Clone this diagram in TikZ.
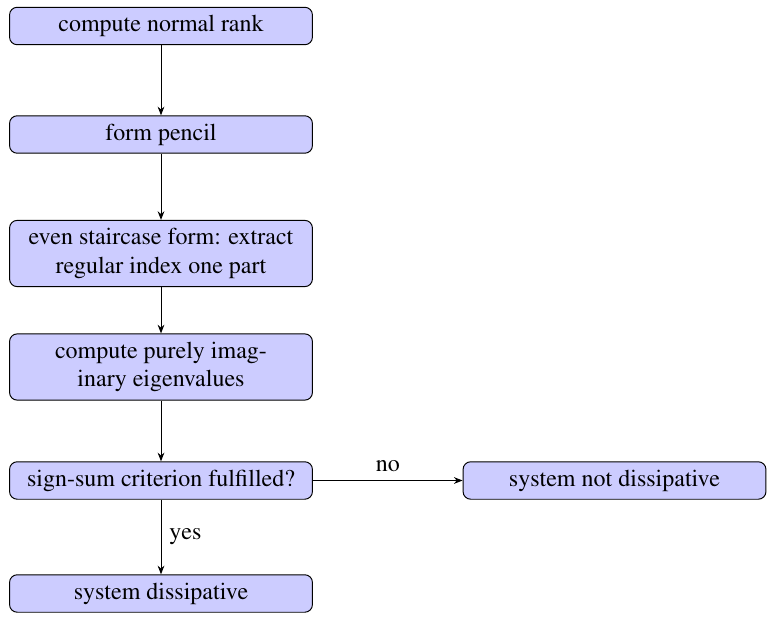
\documentclass[tikz,border=0pt]{standalone}
\usepackage[T1]{fontenc}
\usepackage{mathptmx}
\usetikzlibrary{arrows.meta}
\tikzset{
  stage/.style={draw, fill=blue!20, rounded corners=3.2pt, align=center,
    minimum width=126.2pt, minimum height=15.4pt, inner sep=3.33pt},
  flow/.style={draw, -{Stealth[length=3.6pt,width=2.8pt]}}
}
\begin{document}
\begin{tikzpicture}[x=0.41667pt, y=-0.41667pt]
  \useasboundingbox (0,0) rectangle (769,618);
  \node[stage] (rank)  at (161,26)    {compute normal rank};
  \node[stage] (pen)   at (161,134.5) {form pencil};
  \node[stage] (stair) at (161,253.5) {even staircase form: extract\\regular index one part};
  \node[stage] (eig)   at (161,367)   {compute purely imag-\\inary eigenvalues};
  \node[stage] (crit)  at (161,480.5) {sign-sum criterion fulfilled?};
  \node[stage] (diss)  at (161,593.5) {system dissipative};
  \node[stage] (ndiss) at (614.5,480.5) {system not dissipative};
  \draw[flow] (rank) -- (pen);
  \draw[flow] (pen) -- (stair);
  \draw[flow] (stair) -- (eig);
  \draw[flow] (eig) -- (crit);
  \draw[flow] (crit) -- node[above] {no} (ndiss);
  \draw[flow] (crit) -- node[right] {yes} (diss);
\end{tikzpicture}
\end{document}
